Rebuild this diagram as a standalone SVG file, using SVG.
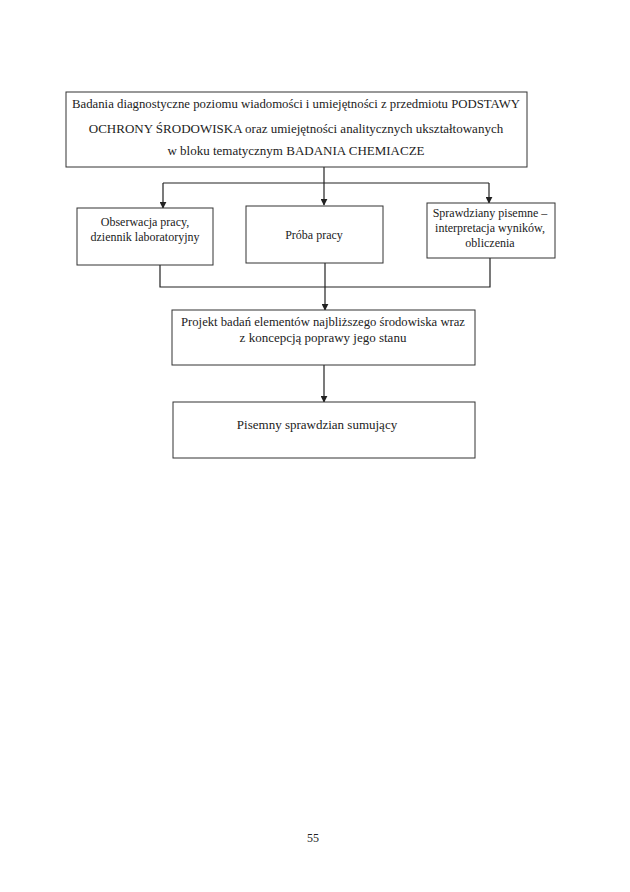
<svg xmlns="http://www.w3.org/2000/svg" width="630" height="892" viewBox="0 0 630 892">
<style>
.box{fill:#fff;stroke:#333;stroke-width:1}
.ln{fill:none;stroke:#222;stroke-width:1.2}
text{font-family:"Liberation Serif","Times New Roman",serif;fill:#222;text-anchor:middle}
.t13{font-size:13px}
.t12{font-size:12px}
</style>
<defs>
<marker id="ah" viewBox="0 0 10 10" refX="9" refY="5" markerWidth="7" markerHeight="7" orient="auto" markerUnits="userSpaceOnUse">
<path d="M0,0 L10,5 L0,10 z" fill="#222"/>
</marker>
</defs>
<rect width="630" height="892" fill="#fff"/>
<g id="connectors">
<path class="ln" d="M324,167 V205" marker-end="url(#ah)"/>
<path class="ln" d="M163,183 H489"/>
<path class="ln" d="M163,183 V208" marker-end="url(#ah)"/>
<path class="ln" d="M489,183 V203" marker-end="url(#ah)"/>
<path class="ln" d="M160,265 V287 H490 V258"/>
<path class="ln" d="M325,263 V310" marker-end="url(#ah)"/>
<path class="ln" d="M324,365 V402" marker-end="url(#ah)"/>
</g>
<g id="top">
<rect class="box" x="66" y="92" width="461" height="75"/>
<text class="t13" x="296" y="108" textLength="448" lengthAdjust="spacingAndGlyphs">Badania diagnostyczne poziomu wiadomości i umiejętności z przedmiotu PODSTAWY</text>
<text class="t13" x="296" y="133">OCHRONY ŚRODOWISKA oraz umiejętności analitycznych ukształtowanych</text>
<text class="t13" x="296" y="155">w bloku tematycznym BADANIA CHEMIACZE</text>
</g>
<g id="obserwacja">
<rect class="box" x="77" y="208" width="136" height="57"/>
<text class="t12" x="145" y="226">Obserwacja  pracy,</text>
<text class="t12" x="145" y="241">dziennik laboratoryjny</text>
</g>
<g id="proba">
<rect class="box" x="246" y="206" width="137" height="57"/>
<text class="t12" x="314" y="239">Próba pracy</text>
</g>
<g id="sprawdziany">
<rect class="box" x="427" y="203" width="128" height="55"/>
<text class="t12" x="490" y="217">Sprawdziany pisemne –</text>
<text class="t12" x="490" y="232">interpretacja wyników,</text>
<text class="t12" x="490" y="247">obliczenia</text>
</g>
<g id="projekt">
<rect class="box" x="172" y="310" width="303" height="55"/>
<text class="t13" x="323" y="326" textLength="284" lengthAdjust="spacingAndGlyphs">Projekt badań elementów najbliższego środowiska wraz</text>
<text class="t13" x="323" y="342">z koncepcją poprawy jego stanu</text>
</g>
<g id="pisemny">
<rect class="box" x="173" y="402" width="302" height="56"/>
<text class="t13" x="317" y="429">Pisemny sprawdzian sumujący</text>
</g>
<text class="t12" x="313" y="842">55</text>
</svg>
